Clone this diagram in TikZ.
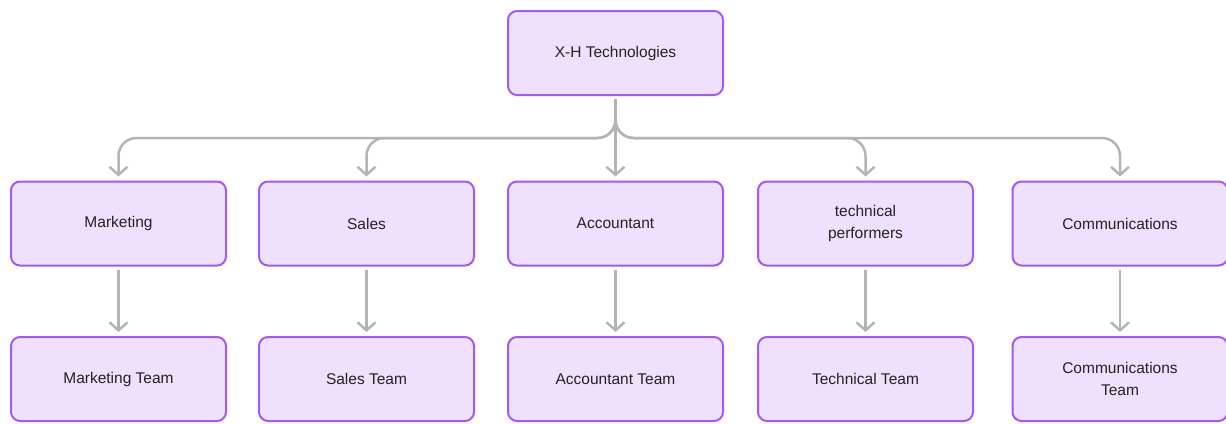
\documentclass[tikz,border=0pt]{standalone}
\usepackage{fontspec}
\setmainfont{Liberation Sans}
\usetikzlibrary{arrows.meta}
\definecolor{boxfill}{HTML}{EFE1FE}
\definecolor{boxline}{HTML}{A259F7}
\definecolor{linegray}{HTML}{B4B4B4}
\definecolor{txtdark}{HTML}{222222}
\tikzset{conn/.style={draw=linegray,line width=2.5pt,rounded corners=18pt,
    -{Straight Barb[length=8pt,width=18pt]},shorten <=3pt,shorten >=4pt}}
\begin{document}
\begin{tikzpicture}[x=1pt,y=-1pt]
	\useasboundingbox (0,0) rectangle (1226,423);
	\begin{scope}[every node/.style={rectangle,rounded corners=9pt,draw=boxline,fill=boxfill,line width=2pt,
	    minimum width=215pt,minimum height=84pt,align=center,text=txtdark,
	    font=\fontsize{15.5}{22}\selectfont}]
	  \node (top) at (615.5,53) {X-H Technologies};
	  \node (mkt) at (118.5,223.5) {Marketing};
	  \node (sal) at (366.5,223.5) {Sales};
	  \node (acc) at (615.5,223.5) {Accountant};
	  \node (tec) at (865.5,223.5) {technical\\performers};
	  \node (com) at (1120,223.5) {Communications};
	  \node (mktteam) at (118.5,379) {Marketing Team};
	  \node (salteam) at (366.5,379) {Sales Team};
	  \node (accteam) at (615.5,379) {Accountant Team};
	  \node (tecteam) at (865.5,379) {Technical Team};
	  \node (comteam) at (1120,379) {Communications\\Team};
	\end{scope}
	\coordinate (bus) at (615.5,138);
	\begin{scope}[every path/.style={conn}]
	  \draw (top.south) -- (bus) -| (mkt.north);
	  \draw (top.south) -- (bus) -| (sal.north);
	  \draw (top.south) -- (acc.north);
	  \draw (top.south) -- (bus) -| (tec.north);
	  \draw (top.south) -- (bus) -| (com.north);
	  \draw (mkt) -- (mktteam);
	  \draw (sal) -- (salteam);
	  \draw (acc) -- (accteam);
	  \draw (tec) -- (tecteam);
	  \draw (com) -- (comteam);
	\end{scope}
\end{tikzpicture}
\end{document}
